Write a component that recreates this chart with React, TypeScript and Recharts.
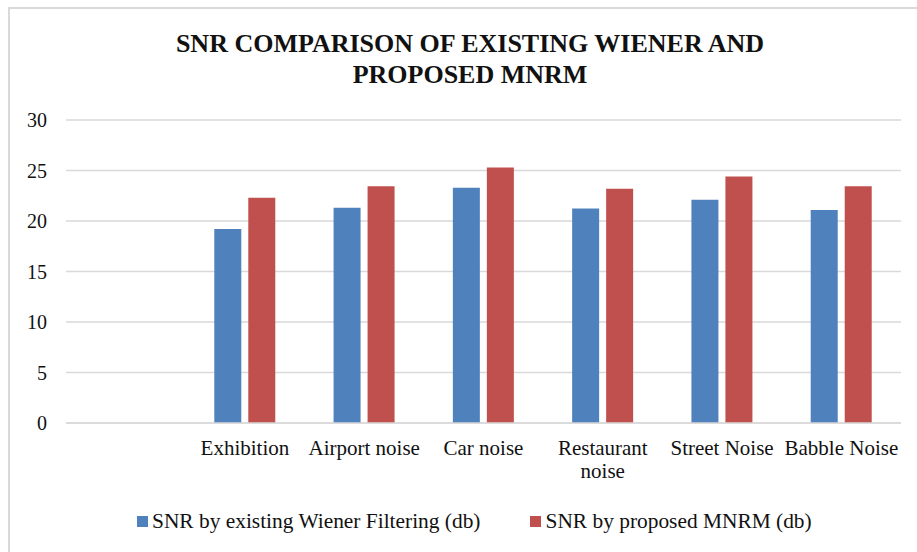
import { BarChart, Bar, XAxis, YAxis, CartesianGrid } from 'recharts'

const categories = ['', 'Exhibition', 'Airport noise', 'Car noise', 'Restaurant noise', 'Street Noise', 'Babble Noise']
const wienerSnr = [null, 19.2, 21.3, 23.3, 21.25, 22.1, 21.1]
const mnrmSnr = [null, 22.3, 23.45, 25.3, 23.2, 24.4, 23.45]
const yTicks = [0, 5, 10, 15, 20, 25, 30]

const seriesNames = ['SNR by existing Wiener Filtering (db)', 'SNR by proposed MNRM (db)']
const BLUE = '#4F81BD'
const RED = '#C0504D'
const FONT = '"Liberation Serif", "DejaVu Serif", "Noto Serif", Tinos, FreeSerif, Times, serif'

const data = categories.map((name, i) => ({ name, wiener: wienerSnr[i], mnrm: mnrmSnr[i] }))

const YTick = (props: any) => {
  const { y, payload } = props
  return (
    <text x={47} y={y} dy={7} textAnchor="end" fill="#111" fontSize={20} fontFamily={FONT}>
      {payload.value}
    </text>
  )
}

const XTick = (props: any) => {
  const { x, payload } = props
  const label: string = payload.value ?? ''
  const lines = label.length > 14 ? label.split(' ') : [label]
  return (
    <text x={x} y={455} textAnchor="middle" fill="#111" fontSize={21} fontFamily={FONT}>
      {lines.map((line, i) => (
        <tspan key={i} x={x} dy={i === 0 ? 0 : 23}>{line}</tspan>
      ))}
    </text>
  )
}

const Legend = () => (
  <div
    style={{
      position: 'absolute',
      left: 137,
      top: 509,
      display: 'flex',
      fontFamily: FONT,
      fontSize: 21.4,
      color: '#111',
      lineHeight: '24px',
    }}
  >
    {seriesNames.map((name, i) => (
      <div key={name} style={{ display: 'flex', alignItems: 'center', marginRight: i === 0 ? 50 : 0 }}>
        <span style={{ width: 11, height: 11, background: i === 0 ? BLUE : RED, marginRight: 4, display: 'inline-block' }} />
        <span>{name}</span>
      </div>
    ))}
  </div>
)

export default function App() {
  return (
    <div style={{ position: 'fixed', left: 0, top: 0, width: 917, height: 552, background: '#fff', overflow: 'hidden' }}>
      <div
        style={{
          position: 'absolute',
          left: 8,
          top: 7,
          width: 920,
          height: 560,
          borderLeft: '2px solid #d9d9d9',
          borderTop: '2px solid #d9d9d9',
          boxSizing: 'border-box',
        }}
      />
      <div
        style={{
          position: 'absolute',
          left: 0,
          width: 940,
          top: 28,
          textAlign: 'center',
          fontFamily: FONT,
          fontWeight: 'bold',
          fontSize: 26,
          lineHeight: '31px',
          color: '#111',
        }}
      >
        SNR COMPARISON OF EXISTING WIENER AND
        <br />
        PROPOSED MNRM
      </div>
      <div style={{ position: 'absolute', left: 0, top: 0 }}>
        <BarChart
          width={917}
          height={552}
          data={data}
          margin={{ top: 120, right: 16, left: 0, bottom: 99 }}
          barGap={7}
          barSize={27}
        >
          <CartesianGrid vertical={false} stroke="#d9d9d9" strokeWidth={1.5} />
          <XAxis
            dataKey="name"
            interval={0}
            axisLine={{ stroke: '#d9d9d9', strokeWidth: 1.5 }}
            tickLine={false}
            tick={<XTick />}
            height={30}
          />
          <YAxis
            domain={[0, 30]}
            ticks={yTicks}
            width={66}
            axisLine={false}
            tickLine={false}
            tick={<YTick />}
          />
          <Bar dataKey="wiener" name={seriesNames[0]} fill={BLUE} isAnimationActive={false} />
          <Bar dataKey="mnrm" name={seriesNames[1]} fill={RED} isAnimationActive={false} />
        </BarChart>
      </div>
      <Legend />
    </div>
  )
}
